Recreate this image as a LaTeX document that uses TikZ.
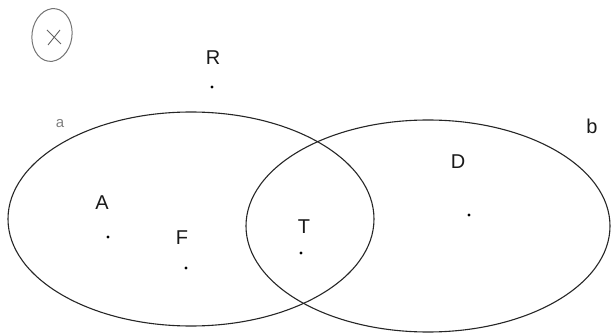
\documentclass[tikz,border=0pt]{standalone}
\usepackage{fontspec}
\setmainfont{Liberation Sans}
\usetikzlibrary{shapes.geometric}
\begin{document}
\begin{tikzpicture}[x=1pt,y=-1pt,
  setline/.style={draw=black!85,line width=1.1pt},
  pt/.style={circle,fill=black,inner sep=0pt,minimum size=3.2pt},
  lbl/.style={font=\fontsize{20}{20}\selectfont,text=black!90,inner sep=0pt}]
\useasboundingbox (0,0) rectangle (611,334);
\path[setline] (191,219) ellipse [x radius=183,y radius=107];
\path[setline] (428,226) ellipse [x radius=182,y radius=106];
\node[draw=black!55,line width=1pt,ellipse,minimum width=40pt,minimum height=53pt,inner sep=0pt,rotate=-8] (c) at (52,35) {};
\draw[black!60,line width=0.9pt] (47,30) coordinate (x1) -- (61,44) coordinate (x2);
\draw[black!60,line width=0.9pt] (60,30) coordinate (x3) -- (48,45) coordinate (x4);
\node[lbl] (R) at (213,58) {R};
\node[pt] (pR) at (212,87) {};
\node[lbl,text=black!50,font=\fontsize{15}{15}\selectfont] (a) at (60,124) {a};
\node[lbl] (b) at (592,126) {b};
\node[lbl] (D) at (458,162) {D};
\node[pt] (pD) at (469,215) {};
\node[lbl] (A) at (102,203) {A};
\node[pt] (pA) at (108,237) {};
\node[lbl] (F) at (182,238) {F};
\node[pt] (pF) at (186,268) {};
\node[lbl] (T) at (304,227) {T};
\node[pt] (pT) at (301,253) {};
\end{tikzpicture}
\end{document}
